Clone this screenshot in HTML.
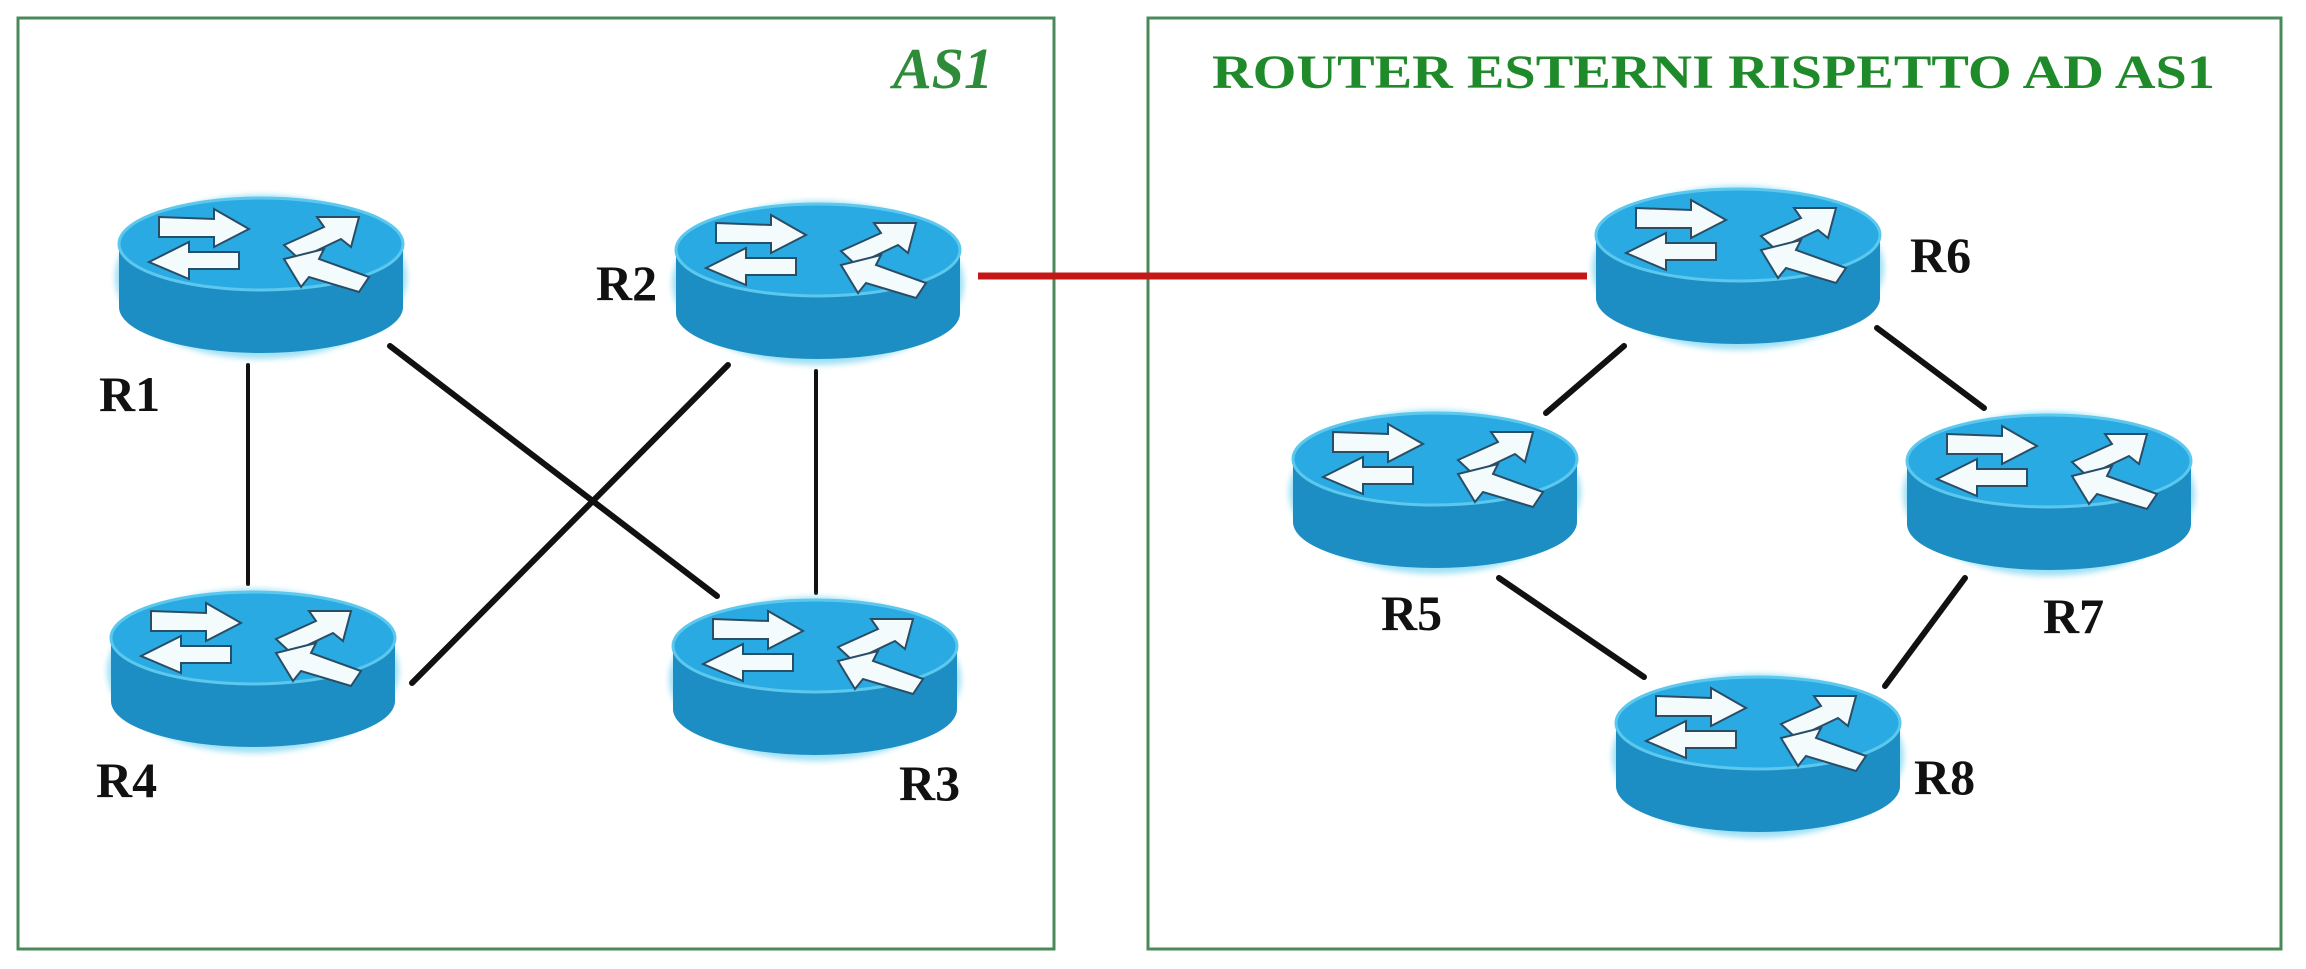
<!DOCTYPE html>
<html><head><meta charset="utf-8"><style>
html,body{margin:0;padding:0;background:#fff;}
svg{display:block;}
text{font-family:"Liberation Serif",serif;}
</style></head><body>
<svg width="2306" height="969" viewBox="0 0 2306 969" xmlns="http://www.w3.org/2000/svg">
<defs>
<filter id="glow" x="-10%" y="-10%" width="120%" height="130%"><feGaussianBlur stdDeviation="3"/></filter>
<g id="rt">
  <ellipse cx="142" cy="80" rx="146" ry="82" fill="#9fe0f5" filter="url(#glow)"/>
  <rect x="0" y="47" width="284" height="63" fill="#1d8ec3"/>
  <ellipse cx="142" cy="110" rx="142" ry="46" fill="#1d8ec3"/>
  <ellipse cx="142" cy="47" rx="142" ry="46" fill="#2aaae2" stroke="#5cc8ee" stroke-width="3"/>
  <g fill="#f4fbfd" stroke="#2a4d66" stroke-width="2">
    <polygon points="40,20 95,22 95,12 130,32 95,50 95,40 40,40"/>
    <polygon points="120,55 70,55 70,45 30,65 70,82 70,72 120,72"/>
    <polygon points="165,48 205,30 198,20 240,20 232,50 222,42 180,62"/>
    <polygon points="250,80 200,62 205,52 165,62 182,90 190,80 240,95"/>
  </g>
</g>
</defs>
<rect x="18" y="18" width="1036" height="931" fill="none" stroke="#4a8a5a" stroke-width="3"/>
<rect x="1148" y="18" width="1133" height="931" fill="none" stroke="#4a8a5a" stroke-width="3"/>
<text x="893" y="88" font-size="58" font-weight="bold" font-style="italic" fill="#2e8b3a">AS1</text>
<text x="1212" y="88" font-size="48" font-weight="bold" fill="#1f8a2a" textLength="1003" lengthAdjust="spacingAndGlyphs">ROUTER ESTERNI RISPETTO AD AS1</text>
<g stroke="#111" stroke-linecap="round">
  <line x1="248" y1="365" x2="248" y2="584" stroke-width="4"/>
  <line x1="390" y1="346" x2="717" y2="596" stroke-width="6"/>
  <line x1="412" y1="683" x2="728" y2="365" stroke-width="6"/>
  <line x1="816" y1="371" x2="816" y2="593" stroke-width="4"/>
  <line x1="1624" y1="346" x2="1546" y2="413" stroke-width="6"/>
  <line x1="1877" y1="328" x2="1984" y2="408" stroke-width="6"/>
  <line x1="1499" y1="578" x2="1644" y2="677" stroke-width="6"/>
  <line x1="1965" y1="578" x2="1885" y2="686" stroke-width="6"/>
</g>
<line x1="978" y1="276" x2="1587" y2="276" stroke="#c41818" stroke-width="7"/>
<use href="#rt" x="119" y="197"/>
<use href="#rt" x="676" y="203"/>
<use href="#rt" x="111" y="591"/>
<use href="#rt" x="673" y="599"/>
<use href="#rt" x="1596" y="188"/>
<use href="#rt" x="1293" y="412"/>
<use href="#rt" x="1907" y="414"/>
<use href="#rt" x="1616" y="676"/>
<g font-size="50" font-weight="bold" fill="#111">
<text x="99" y="411">R1</text>
<text x="596" y="300">R2</text>
<text x="899" y="800">R3</text>
<text x="96" y="797">R4</text>
<text x="1381" y="630">R5</text>
<text x="1910" y="272">R6</text>
<text x="2043" y="633">R7</text>
<text x="1914" y="794">R8</text>
</g>
</svg>
</body></html>
